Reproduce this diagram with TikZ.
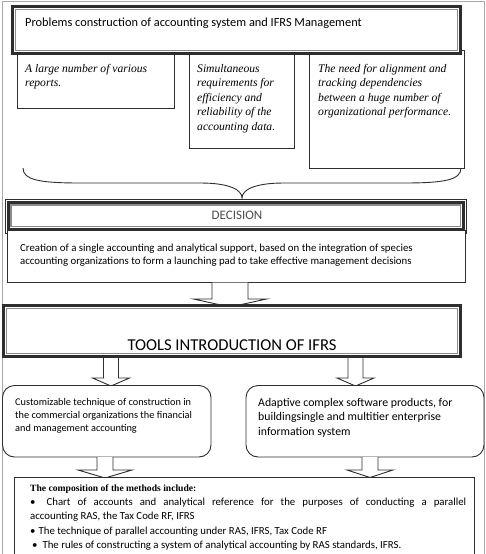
\documentclass[tikz,border=0pt]{standalone}
\usepackage{fontspec}
\setmainfont{Liberation Serif}
\newfontfamily\calfont{Carlito}
\definecolor{dk}{HTML}{2E2E2E}
\definecolor{gr}{HTML}{8C8C8C}
\definecolor{fr}{HTML}{A8A8A8}
\tikzset{
  thickdark/.style={draw=dk, line width=3pt, fill=white},
  innergray/.style={draw=gr, line width=1.2pt},
  thinbox/.style={draw=dk, line width=0.9pt, fill=white},
  roundbox/.style={draw=dk, line width=0.9pt, fill=white, rounded corners=12pt},
  hollowfill/.style={fill=white},
  hollowline/.style={draw=dk, line width=0.9pt, line join=miter},
  txt/.style={inner sep=0pt, anchor=base west},
  ctxt/.style={inner sep=0pt, anchor=base},
}
% block arrow: #1 cx, #2 y top, #3 shaft half width, #4 y shoulder, #5 head half width, #6 y tip
\newcommand\blockarrow[6]{%
  \fill[hollowfill] ({#1-#3},#2) -- ({#1-#3},#4) -- ({#1-#5},#4) -- (#1,#6) -- ({#1+#5},#4) -- ({#1+#3},#4) -- ({#1+#3},#2) -- cycle;
  \draw[hollowline] ({#1-#3},#2) -- ({#1-#3},#4) -- ({#1-#5},#4) -- (#1,#6) -- ({#1+#5},#4) -- ({#1+#3},#4) -- ({#1+#3},#2);
}
\begin{document}
\begin{tikzpicture}[x=1pt,y=-1pt]
\useasboundingbox (0,0) rectangle (486,554);
% outer frame
\draw[fr, line width=1pt] (2,1.5) rectangle (484.5,560);

% three problem boxes
\draw[thinbox] (17,50) rectangle (174,108);
\draw[thinbox] (189,50) rectangle (294,148);
\draw[thinbox] (309,50) rectangle (464,168);

% title box
\draw[thickdark] (12.5,6.5) rectangle (460.5,53.5);
\draw[innergray] (15.2,9.2) rectangle (457.8,50.8);
\node[txt] (title) at (25,26) {\calfont\fontsize{12.35}{14}\selectfont Problems construction of accounting system and IFRS Management};

\node[txt] (p1) at (25,72) {\parbox[t]{160pt}{\raggedright\fontsize{11.6}{14.5}\selectfont\itshape A large number of various\\reports.}};
\node[txt] (p2) at (197,72) {\parbox[t]{120pt}{\raggedright\fontsize{11.6}{14.5}\selectfont\itshape Simultaneous\\requirements for\\efficiency and\\reliability of the\\accounting data.}};
\node[txt] (p3) at (318,72) {\parbox[t]{170pt}{\raggedright\fontsize{11.6}{14.5}\selectfont\itshape The need for alignment and\\tracking dependencies\\between a huge number of\\organizational performance.}};

% brace
\draw[dk, line width=0.9pt] (23,168) .. controls (23,180) and (40,183) .. (80,183)
  -- (200,183) .. controls (230,183) and (242,190) .. (242,198)
  .. controls (242,190) and (254,183) .. (284,183) -- (404,183)
  .. controls (444,183) and (461,180) .. (461,168);

% decision
\draw[thinbox] (5,199) rectangle (466,233);
\draw[thickdark] (8.5,202.5) rectangle (463,229);
\draw[innergray] (11,205) rectangle (460.5,226.5);
\node[ctxt, text=dk!85] (decision) at (237,219.5) {\calfont\fontsize{13}{15}\selectfont DECISION};
\draw[thinbox] (7,230.5) rectangle (465,282);
\node[txt] (creation) at (20,251.5) {\parbox[t]{450pt}{\calfont\fontsize{10.8}{13}\selectfont Creation of a single accounting and analytical support, based on the integration of species\\accounting organizations to form a launching pad to take effective management decisions}};

% big arrow
\blockarrow{230}{282.5}{18}{299}{36.5}{307}

% tools box
\draw[thickdark] (3.5,305.5) rectangle (460.5,356.5);
\draw[innergray] (6.2,308.2) rectangle (457.8,353.8);
\node[ctxt] (tools) at (232,350) {\calfont\fontsize{16.6}{18}\selectfont TOOLS INTRODUCTION OF IFRS};

% small arrows
\blockarrow{111}{358}{7.5}{378}{18.5}{386}
\blockarrow{355.5}{358}{7.5}{378}{18.5}{386}

% rounded boxes
\draw[roundbox] (2.5,385.5) rectangle (211,457);
\draw[roundbox] (246,385.5) rectangle (484,457);
\node[txt] (left) at (15,405) {\parbox[t]{200pt}{\calfont\fontsize{10.3}{13}\selectfont Customizable technique of construction in\\the commercial organizations the financial\\and management accounting}};
\node[txt] (right) at (258,406) {\parbox[t]{220pt}{\calfont\fontsize{11.8}{14.5}\selectfont Adaptive complex software products, for\\buildingsingle and multitier enterprise\\information system}};

% lower arrows
\blockarrow{105}{457}{8}{470}{27}{478}
\blockarrow{370}{457}{8}{470}{23}{477.5}

% bottom box
\draw[thinbox] (14,477.5) rectangle (474,560);
\node[txt] (m0) at (30,491) {\bfseries\fontsize{9.6}{12}\selectfont The composition of the methods include:};
\node[txt] (m1) at (30,505) {\calfont\fontsize{10.8}{12}\selectfont\makebox[436pt][s]{\textbullet\hspace{11pt}Chart of accounts and analytical reference for the purposes of conducting a parallel}};
\node[txt] (m2) at (30,519.5) {\calfont\fontsize{10.8}{12}\selectfont accounting RAS, the Tax Code RF, IFRS};
\node[txt] (m3) at (30,534) {\calfont\fontsize{10.8}{12}\selectfont \textbullet\hspace{3pt}The technique of parallel accounting under RAS, IFRS, Tax Code RF};
\node[txt] (m4) at (32,548.5) {\calfont\fontsize{10.8}{12}\selectfont \textbullet\hspace{5pt}The rules of constructing a system of analytical accounting by RAS standards, IFRS.};
\end{tikzpicture}
\end{document}
